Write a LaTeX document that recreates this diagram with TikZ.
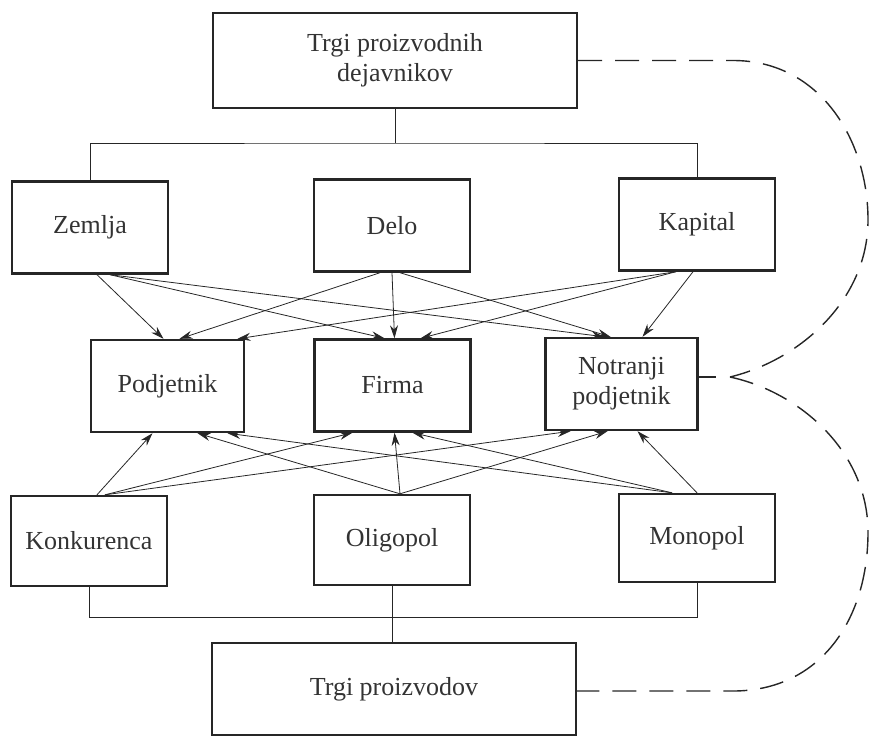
\documentclass[tikz,border=0pt]{standalone}
\usepackage{fontspec}
\setmainfont{Liberation Serif}
\usetikzlibrary{arrows.meta}

\begin{document}
\begin{tikzpicture}[x=1pt,y=-1pt]
  \tikzstyle{box}=[draw=black!85, text=black!80, line width=2.4pt, minimum width=156pt, minimum height=92pt, inner sep=0pt, align=center, font=\fontsize{26}{30}\selectfont]
  \tikzstyle{wide}=[box, minimum width=364pt]
  \tikzstyle{link}=[draw=black!85, line width=1pt]
  \tikzstyle{arr}=[draw=black!85, line width=0.8pt, -{Stealth[length=13pt,width=8pt]}]
  \tikzstyle{dashline}=[draw=black!85, line width=1.4pt, dash pattern=on 24pt off 13pt]
  \useasboundingbox (0,0) rectangle (869,736);

  % markets and boxes
  \node[wide, minimum height=95pt] (factors) at (395,60.5) {Trgi proizvodnih\\dejavnikov};
  \node[box] (zemlja) at (90,227.5) {Zemlja};
  \node[box] (delo) at (392,225.5) {Delo};
  \node[box] (kapital) at (697,224.5) {Kapital};
  \node[box, minimum width=153pt] (podjetnik) at (167.5,386) {Podjetnik};
  \node[box] (firma) at (392.5,385.5) {Firma};
  \node[box, minimum width=152pt] (notranji) at (621.5,384) {Notranji\\podjetnik};
  \node[box, minimum height=90pt] (konkurenca) at (89,541) {Konkurenca};
  \node[box, minimum height=90pt] (oligopol) at (392,540) {Oligopol};
  \node[box, minimum height=88pt] (monopol) at (697,538) {Monopol};
  \node[wide] (products) at (394,689) {Trgi proizvodov};

  % tree lines
  \coordinate (tjoin) at (395,143);
  \coordinate (bjoin) at (392,617);
  \draw[link] (factors.south) -- (tjoin);
  \draw[link] (zemlja.north) |- (tjoin) -| (kapital.north);
  \draw[link] (oligopol.south) -- (oligopol.south |- products.north);
  \draw[link] (konkurenca.south) |- (bjoin) -| (monopol.south);

  % arrows
  \foreach \a/\sa/\b/\sb in {zemlja/7/podjetnik/-4, zemlja/20/firma/-8, zemlja/20/notranji/-17,
      delo/-12/podjetnik/12, delo/0/firma/2, delo/8/notranji/-11,
      kapital/-21/podjetnik/70, kapital/-21/firma/28, kapital/-4/notranji/21}
    \draw[arr] ([xshift=\sa pt]\a.south) -- ([xshift=\sb pt]\b.north);
  \foreach \a/\sa/\b/\sb in {konkurenca/8/podjetnik/-15, konkurenca/16/firma/-40, konkurenca/16/notranji/-51,
      oligopol/8/podjetnik/30, oligopol/8/firma/2, oligopol/8/notranji/-14,
      monopol/-25/podjetnik/60, monopol/-25/firma/20, monopol/0/notranji/16}
    \draw[arr] ([xshift=\sa pt]\a.north) -- ([xshift=\sb pt]\b.south);

  % dashed loop
  \coordinate (cusp) at (730,377);
  \draw[dashline] (factors.east) -- (733,60.5)
    .. controls (820,60.5) and (868,140) .. (868,220)
    .. controls (868,300) and (800,360) .. (cusp);
  \draw[dashline, dash pattern=on 17pt off 20pt] (notranji.east |- cusp) -- (cusp);
  \draw[dashline] (cusp)
    .. controls (800,392) and (868,452) .. (868,532)
    .. controls (868,620) and (820,691) .. (733,691) -- (products.east |- 0,691);
\end{tikzpicture}
\end{document}
